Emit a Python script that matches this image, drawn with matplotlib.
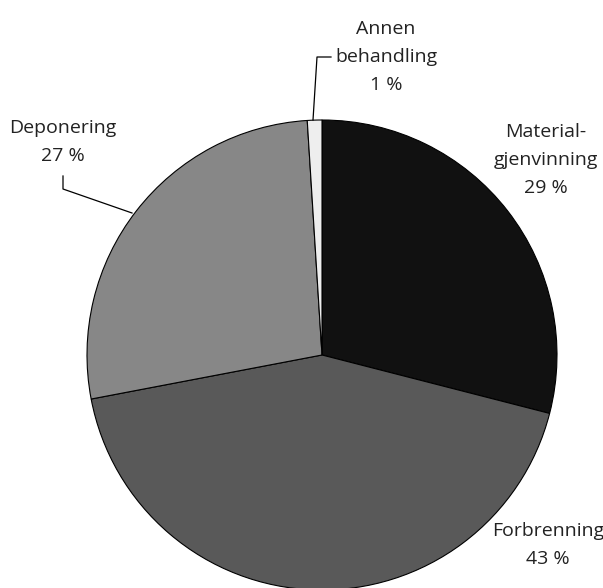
import matplotlib
matplotlib.use("Agg")
import matplotlib.pyplot as plt
from matplotlib.lines import Line2D

categories = ["Material-\ngjenvinning", "Forbrenning", "Deponering", "Annen\nbehandling"]
values = [29, 43, 27, 1]
colors = ["#111111", "#595959", "#878787", "#eeeeee"]

W, H = 603, 588
fig = plt.figure(figsize=(W / 100, H / 100), dpi=100)
ax = fig.add_axes([0, 0, 1, 1])
cx, cy, R = 322, 355, 235
ax.pie(values, colors=colors, startangle=90, counterclock=False, radius=1,
       wedgeprops=dict(edgecolor="black", linewidth=0.8))
ax.set_aspect("auto")
ax.set_xlim(-cx / R, (W - cx) / R)
ax.set_ylim(-(H - cy) / R, cy / R)
ax.axis("off")

plt.rcParams['font.family'] = ['Open Sans', 'DejaVu Sans']

def fx(x):
    return x / W

def fy(y):
    return 1 - y / H

label_pos = [(546, 160), (548, 545), (63, 142), (386, 57)]
for cat, v, (x, y) in zip(categories, values, label_pos):
    fig.text(fx(x), fy(y), f"{cat}\n{v} %", ha="center", va="center",
             fontsize=14.0, color="#222222", linespacing=1.68,
             family=['Open Sans', 'DejaVu Sans'])

# leader lines
for xs, ys in [([313, 317, 331], [120, 57, 57]), ([132, 63, 63], [213, 189, 176])]:
    fig.add_artist(Line2D([fx(x) for x in xs], [fy(y) for y in ys],
                          transform=fig.transFigure, color="black", linewidth=0.9))

fig.savefig("out.png", dpi=100)
